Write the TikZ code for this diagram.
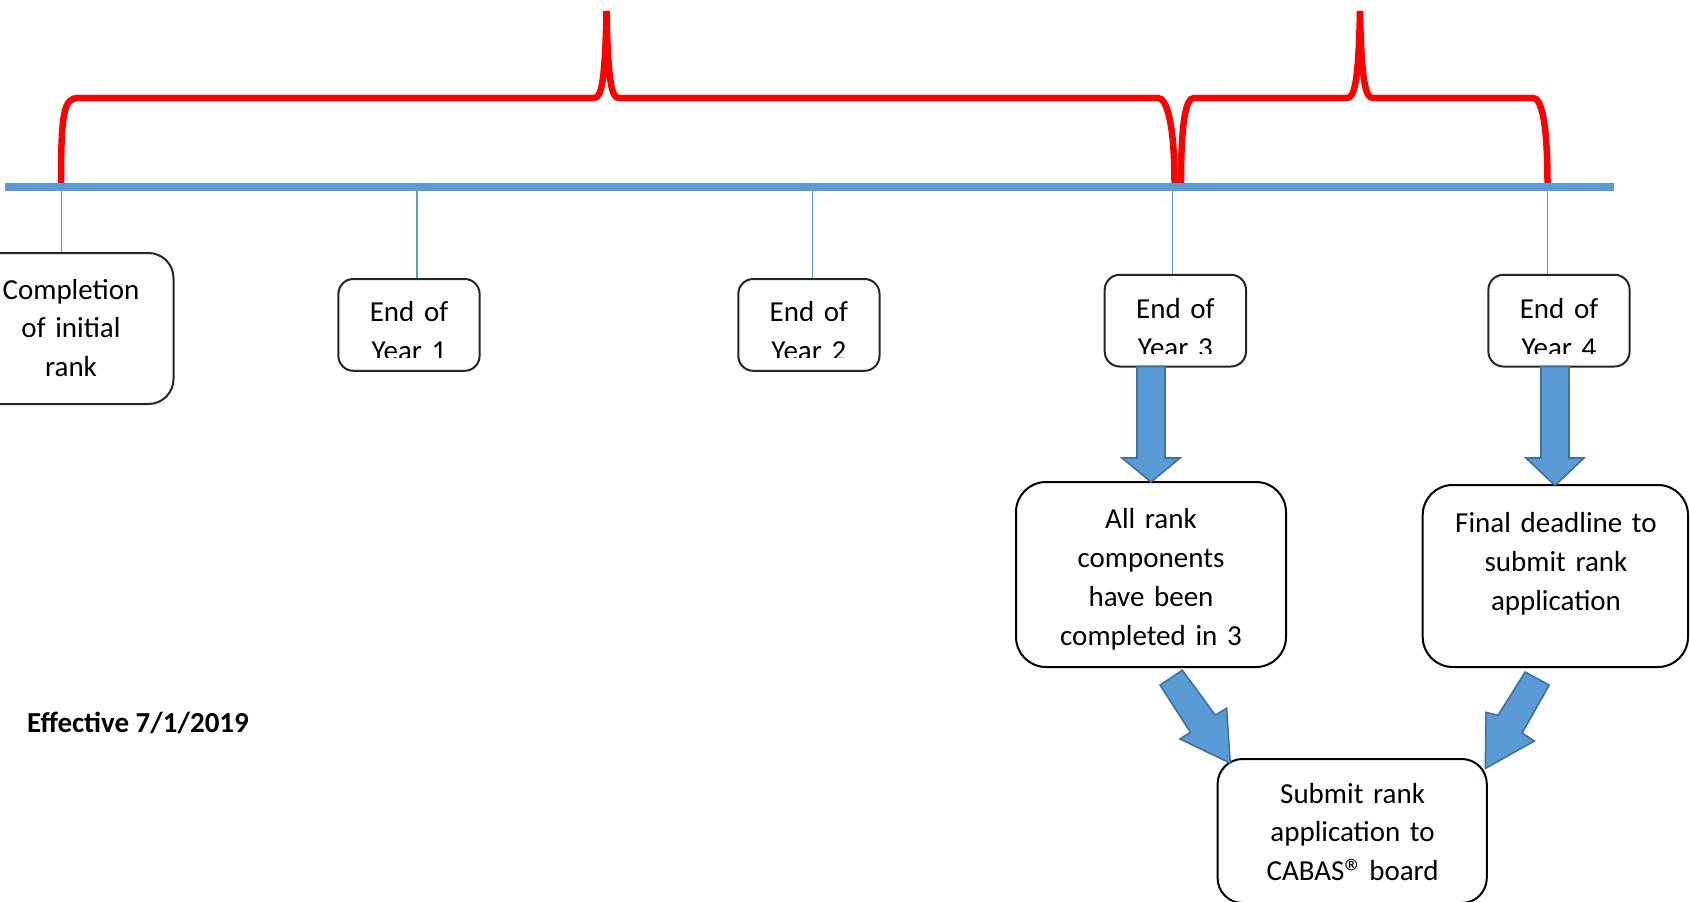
\documentclass[tikz,border=0pt]{standalone}
\usepackage{fontspec}
\setmainfont{Carlito}
\definecolor{tlc}{HTML}{5B9BD5}
\definecolor{arrc}{HTML}{41719C}
\begin{document}
\begin{tikzpicture}[x=1pt,y=-1pt,
  box/.style={draw=black!85, line width=2pt, fill=white, rounded corners=#1, inner sep=0pt},
  box/.default=15pt,
  lbl/.style={font=\fontsize{29}{38.8}\selectfont, inner sep=0pt, align=center, text width=260pt, anchor=base},
  brace/.style={draw=red, line width=6.5pt},
  tick/.style={draw=tlc, line width=1.1pt},
  timeline/.style={draw=tlc, line width=8pt},
  blockarrow/.style={fill=tlc, draw=arrc, line width=1.6pt, line join=miter}]
\useasboundingbox (0,0) rectangle (1690,902);
\clip (0,0) rectangle (1690,902);
\fill[white] (0,0) rectangle (1690,902);

% braces
\draw[brace] (61,184) .. controls (61,112) and (64,98) .. (78,98) -- (594,98)
  .. controls (601,98) and (605,85) .. (606.5,11)
  .. controls (608,85) and (612,98) .. (619,98) -- (1158,98)
  .. controls (1166,98) and (1174.5,120) .. (1174.5,184);
\draw[brace] (1181,184) .. controls (1181,120) and (1186,98) .. (1194,98) -- (1347,98)
  .. controls (1354,98) and (1358.5,85) .. (1360,11)
  .. controls (1361.5,85) and (1366,98) .. (1373,98) -- (1533,98)
  .. controls (1541,98) and (1547.5,120) .. (1547.5,184);

% timeline
\coordinate (tlL) at (5.4,186.7);
\coordinate (tlR) at (1613.5,186.7);
\draw[timeline] (tlL) -- (tlR);

% boxes
\node[box=25pt, minimum width=204.5pt, minimum height=151pt] (c0) at (71.25,328.5) {};
\node[box, minimum width=141.2pt, minimum height=91.8pt] (y1) at (409,324.9) {};
\node[box, minimum width=141.2pt, minimum height=91.8pt] (y2) at (808.9,324.9) {};
\node[box, minimum width=141.3pt, minimum height=91.7pt] (y3) at (1175.35,320.65) {};
\node[box, minimum width=141.2pt, minimum height=91.7pt] (y4) at (1559,320.65) {};
\node[box=30pt, draw=black, minimum width=270pt, minimum height=185pt] (ar) at (1151,574.5) {};
\node[box=30pt, draw=black, minimum width=265.3pt, minimum height=182pt] (fd) at (1555.35,576) {};
\node[box=25pt, draw=black, minimum width=269.2pt, minimum height=144pt] (sb) at (1352.2,831) {};

% ticks
\coordinate (t0) at (61.5,190.7);
\coordinate (t1) at (417,190.7);
\coordinate (t2) at (812.6,190.7);
\coordinate (t3) at (1172.5,190.7);
\coordinate (t4) at (1547.8,190.7);
\draw[tick] (t0) -- (t0 |- c0.north);
\draw[tick] (t1) -- (t1 |- y1.north);
\draw[tick] (t2) -- (t2 |- y2.north);
\draw[tick] (t3) -- (t3 |- y3.north);
\draw[tick] (t4) -- (t4 |- y4.north);

% texts
\node[lbl] (c0t) at (71,299) {Completion\\of initial\\rank};
\begin{scope}
  \clip (340,281) rectangle (478,357);
  \node[lbl] (y1t) at (409,321.7) {End of\\Year 1};
\end{scope}
\begin{scope}
  \clip (740,281) rectangle (878,357);
  \node[lbl] (y2t) at (808.9,321.7) {End of\\Year 2};
\end{scope}
\begin{scope}
  \clip (1106,277) rectangle (1244,353);
  \node[lbl] (y3t) at (1175.35,318.5) {End of\\Year 3};
\end{scope}
\begin{scope}
  \clip (1490,277) rectangle (1628,353);
  \node[lbl] (y4t) at (1559,318.5) {End of\\Year 4};
\end{scope}
\node[lbl] (art) at (1151,528.8) {All rank\\components\\have been\\completed in 3};
\node[lbl] (fdt) at (1556,532.7) {Final deadline to\\submit rank\\application};
\node[lbl] (sbt) at (1352.6,803) {Submit rank\\application to\\CABAS\raisebox{-5pt}{\fontsize{38}{38}\selectfont ®}\hspace{-4pt} board};
\node[font=\fontsize{29}{38.8}\selectfont\bfseries, anchor=base west, inner sep=0pt] (eff) at (27,732.5) {Effective 7/1/2019};

% block arrows
\draw[blockarrow] (1137,366.5) -- (1165,366.5) -- (1165,458) -- (1180,458) -- (1151,482) -- (1122,458) -- (1137,458) -- cycle;
\draw[blockarrow] (1541,366.5) -- (1569,366.5) -- (1569,458) -- (1584,458) -- (1555,485.5) -- (1526,458) -- (1541,458) -- cycle;
\draw[blockarrow] (1160.1,685.1) -- (1182.3,670.2) -- (1215.3,715.2) -- (1226.6,708.2) -- (1230.2,763.1) -- (1180,739) -- (1190.4,732.3) -- cycle;
\draw[blockarrow] (1549.2,685.1) -- (1525.2,672) -- (1498.1,715.2) -- (1485.9,712.4) -- (1485.4,768.4) -- (1534.3,741) -- (1522.1,733) -- cycle;
\end{tikzpicture}
\end{document}
